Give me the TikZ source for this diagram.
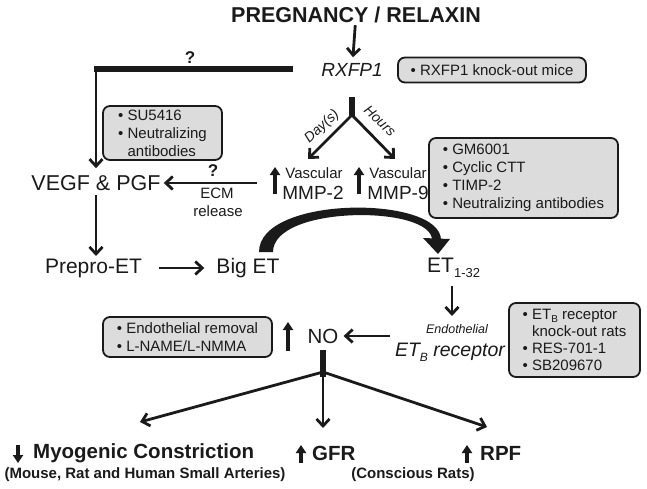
\documentclass[tikz,border=0pt]{standalone}
\usepackage{fontspec}
\setmainfont{Liberation Sans}
\usetikzlibrary{arrows.meta,calc}
\definecolor{boxgray}{HTML}{DCDCDC}
\definecolor{ink}{HTML}{1A1A1A}
\newcommand\setfs[2]{\fontsize{#1}{#2}\selectfont}
\begin{document}
\begin{tikzpicture}[x=1pt,y=-1pt,
  txt/.style={inner sep=0pt, text=ink},
  arr/.style={draw=ink, line width=2.8pt, -{Straight Barb[length=7pt,width=13pt,line width=2.8pt]}},
  uparr/.style={draw=ink, line width=3.4pt, -{Triangle[length=8pt,width=10pt]}},
  barline/.style={draw=ink, line width=6pt},
  gbox/.style={draw=ink, line width=1.8pt, rounded corners=7pt, fill=boxgray,
    align=left, inner ysep=0pt, inner xsep=4pt, text=ink, font={\setfs{15}{18}}},
  main/.style={txt, font={\setfs{21}{24}}},
  boldmain/.style={txt, font={\bfseries\setfs{20.5}{24}}},
  note/.style={txt, font={\bfseries\setfs{15}{18}}},
  qmark/.style={txt, font={\bfseries\setfs{17}{18}}},
  small/.style={txt, font={\setfs{15}{18}}}
]
\useasboundingbox (0,0) rectangle (647,489);

% top
\node[txt, font={\bfseries\setfs{21.5}{24}}] (title) at (356,15) {PREGNANCY / RELAXIN};
\node[txt, font={\itshape\setfs{19}{22}}] (rx) at (352,70) {RXFP1};
\draw[arr, shorten <=2pt, shorten >=6pt] (title) -- (rx);
\node[gbox, minimum width=188pt, minimum height=25pt] (rxbox) at (492,70) {• RXFP1 knock-out mice};

% bar to VEGF
\coordinate (barR) at (293,69);
\coordinate (barL) at (94,69);
\coordinate (vtop) at (96,69);
\node[qmark] (q1) at (190,58) {?};
\node[txt, font={\setfs{21.5}{24}}] (vegf) at (96,183) {VEGF \& PGF};
\draw[barline] (barR) -- (barL);
\draw[arr, shorten >=7pt] (vtop) -- (vegf.north);
\node[gbox, minimum width=119pt, minimum height=54pt] (subox) at (162.5,133)
  {• SU5416\\• Neutralizing\\\phantom{• }antibodies};

% split
\coordinate (stemtop) at (352,97);
\coordinate (split) at (352,116);
\draw[barline] (stemtop) -- (split);
\coordinate (tip2) at (308,159);
\coordinate (tip9) at (395,159);
\draw[arr] ($(split)+(0,-1)$) -- (tip2);
\draw[arr] ($(split)+(0,-1)$) -- (tip9);
\node[txt, font={\itshape\setfs{14}{16}}, rotate=43] (days) at (322,127) {Day(s)};
\node[txt, font={\itshape\setfs{14}{16}}, rotate=-43] (hours) at (380,121) {Hours};

% MMPs
\node[small] (vasc2) at (314,173) {Vascular};
\node[txt, font={\setfs{19}{22}}] (mmp2) at (313,193) {MMP-2};
\node[small] (vasc9) at (398,173) {Vascular};
\node[txt, font={\setfs{19}{22}}] (mmp9) at (398,193) {MMP-9};
\coordinate (u2b) at (275,194);
\coordinate (u2t) at (275,167);
\coordinate (u9b) at (359,194);
\coordinate (u9t) at (359,167);
\draw[uparr] (u2b) -- (u2t);
\draw[uparr] (u9b) -- (u9t);
\node[gbox, minimum width=189pt, minimum height=80pt] (gmbox) at (523.5,178)
  {• GM6001\\• Cyclic CTT\\• TIMP-2\\• Neutralizing antibodies};

% ECM arrow
\coordinate (ecmstart) at (257,183);
\draw[arr, shorten >=3pt] (ecmstart) -- (vegf.east |- ecmstart);
\node[qmark] (q2) at (213,171) {?};
\node[small] (ecm) at (217,193) {ECM};
\node[small] (release) at (218,211) {release};

% ET row
\node[main] (prepro) at (93.5,268) {Prepro-ET};
\node[main] (bigET) at (248,268) {Big ET};
\node[main, anchor=west] (et) at (427,268) {ET\raisebox{-4.5pt}{\setfs{13}{13}1-32}};
\coordinate (vdown) at (96,195);
\coordinate (vdtip) at (96,256);
\draw[arr] (vdown) -- (vdtip);
\draw[arr, shorten <=17pt, shorten >=12pt] (prepro.east) -- (bigET.west);

% big curved arrow
\coordinate (cL) at (266,252);
\coordinate (cR) at (437,240);
\fill[ink] (259,252) .. controls (259,195) and (441,195) .. (441,240)
  -- (432,240) .. controls (432,205) and (273,205) .. (273,252) -- cycle;
\fill[ink] (423,238) -- (450,239) -- (438,254) -- cycle;

% ETB receptor
\node[txt, font={\itshape\setfs{12.5}{14}}] (endo) at (457,329) {Endothelial};
\node[txt, font={\itshape\setfs{19.5}{22}}] (etb) at (450,352) {ET\raisebox{-5pt}{\setfs{12}{12}B} receptor};
\coordinate (etdown) at (452,286);
\coordinate (etbtip) at (452,316);
\draw[arr] (etdown) -- (etbtip);
\node[gbox, minimum width=131pt, minimum height=74pt, font={\setfs{15}{17}}] (etbbox) at (574.5,340)
  {• ET\raisebox{-3pt}{\setfs{10}{10}B} receptor\\\phantom{• }knock-out rats\\• RES-701-1\\• SB209670};

% NO
\node[txt, font={\setfs{20.5}{24}}] (no) at (323,336) {NO};
\coordinate (nob) at (288,351);
\coordinate (not) at (288,322);
\draw[uparr] (nob) -- (not);
\draw[arr, shorten >=5pt] (390,336) -- (no.east);
\node[gbox, minimum width=169pt, minimum height=40pt] (endobox) at (187.5,337)
  {• Endothelial removal\\• L-NAME/L-NMMA};

% branches
\coordinate (nostem) at (323,350);
\coordinate (nojn) at (323,377);
\coordinate (br) at (323,372);
\draw[barline] (nostem) -- (nojn);
\coordinate (tipL) at (140,422);
\coordinate (tipM) at (323,428);
\coordinate (tipR) at (487,427);
\draw[arr] (br) -- (tipL);
\draw[arr] (br) -- (tipM);
\draw[arr] (br) -- (tipR);

% bottom
\node[boldmain, anchor=west] (myo) at (33,453) {Myogenic Constriction};
\node[note] (mouse) at (145,475) {(Mouse, Rat and Human Small Arteries)};
\node[boldmain, anchor=west] (gfr) at (312,453) {GFR};
\node[boldmain, anchor=west] (rpf) at (480,453) {RPF};
\node[note] (consc) at (413,475) {(Conscious Rats)};
\coordinate (dmt) at (18,445);
\coordinate (dmb) at (18,463);
\draw[uparr] (dmt) -- (dmb);
\coordinate (ugb) at (301,463);
\coordinate (ugt) at (301,445);
\draw[uparr] (ugb) -- (ugt);
\coordinate (urb) at (467,463);
\coordinate (urt) at (467,445);
\draw[uparr] (urb) -- (urt);
\end{tikzpicture}
\end{document}
